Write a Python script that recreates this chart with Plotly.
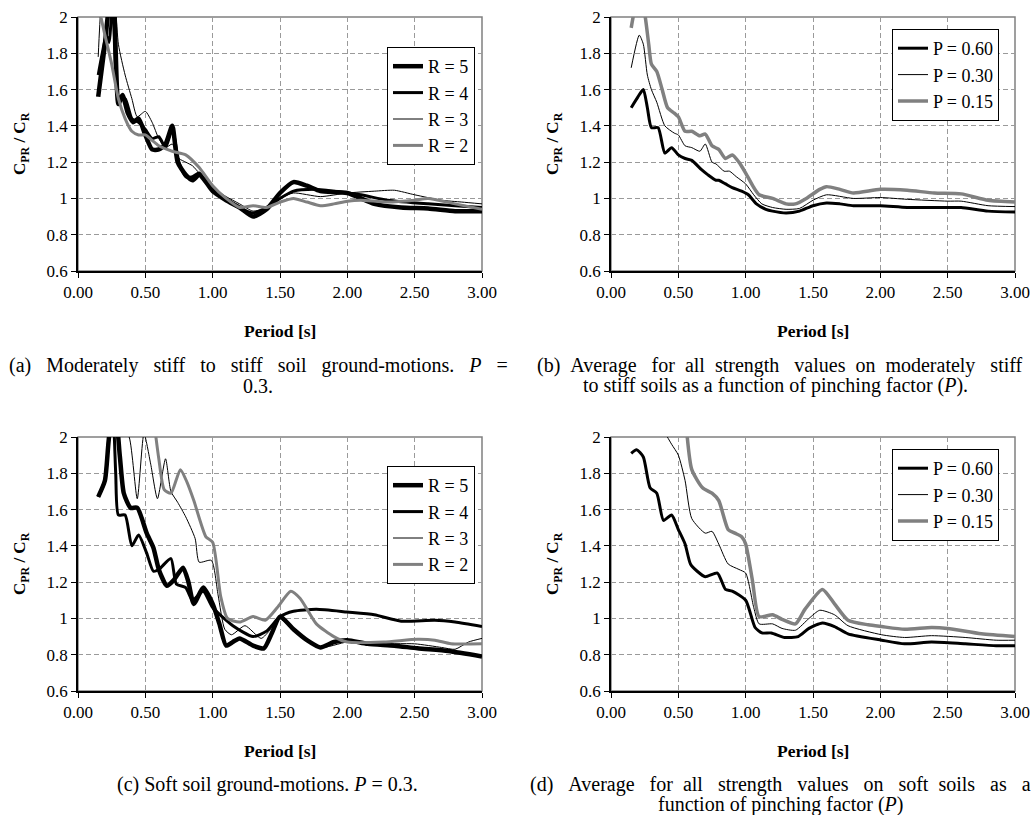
import plotly.graph_objects as go

# ---------------- data ----------------
# (a) moderately stiff to stiff soils, P = 0.3
a_R5_T = [0.15,0.2,0.23,0.26,0.3,0.33,0.37,0.41,0.45,0.5,0.55,0.6,0.65,0.7,0.74,0.8,0.85,0.9,0.95,1.0,1.1,1.2,1.3,1.4,1.5,1.6,1.7,1.8,2.0,2.2,2.4,2.6,2.8,3.0]
a_R5_V = [1.56,1.85,2.05,2.1,1.52,1.57,1.47,1.42,1.44,1.35,1.27,1.27,1.30,1.40,1.20,1.13,1.10,1.13,1.09,1.04,0.99,0.95,0.90,0.94,1.03,1.09,1.07,1.04,1.03,0.97,0.95,0.945,0.93,0.93]
a_R4_T = [0.15,0.18,0.21,0.23,0.26,0.3,0.35,0.4,0.45,0.5,0.55,0.6,0.65,0.7,0.75,0.8,0.85,0.9,0.95,1.0,1.1,1.2,1.3,1.4,1.5,1.6,1.75,1.9,2.1,2.3,2.6,2.8,3.0]
a_R4_V = [1.68,1.8,1.9,1.86,2.1,1.55,1.55,1.44,1.42,1.38,1.33,1.34,1.28,1.38,1.2,1.12,1.12,1.14,1.09,1.05,1.0,0.95,0.92,0.95,1.0,1.04,1.05,1.04,1.02,0.99,0.97,0.96,0.95]
a_R3_T = [0.15,0.17,0.2,0.25,0.3,0.35,0.4,0.44,0.5,0.55,0.6,0.65,0.7,0.75,0.8,0.85,0.9,0.95,1.0,1.1,1.2,1.3,1.4,1.5,1.6,1.8,2.0,2.2,2.35,2.5,2.7,2.85,3.0]
a_R3_V = [1.78,2.05,2.2,2.3,1.85,1.68,1.55,1.45,1.48,1.42,1.33,1.28,1.30,1.22,1.20,1.18,1.14,1.11,1.06,1.01,0.97,0.93,0.95,1.0,1.03,1.01,1.03,1.04,1.045,1.02,0.99,0.98,0.97]
a_R2_T = [0.17,0.2,0.25,0.3,0.35,0.4,0.45,0.5,0.55,0.6,0.7,0.8,0.9,1.0,1.1,1.2,1.3,1.4,1.5,1.6,1.7,1.8,1.9,2.0,2.1,2.3,2.5,2.6,2.8,3.0]
a_R2_V = [2.0,1.9,1.74,1.55,1.44,1.37,1.35,1.35,1.32,1.29,1.26,1.24,1.17,1.07,1.0,0.95,0.96,0.95,0.98,1.0,0.98,0.96,0.97,0.985,0.99,0.98,0.99,1.0,0.97,0.94]

# (b) moderately stiff to stiff soils, all strengths, by P
b_P60_T = [0.15,0.2,0.24,0.27,0.3,0.35,0.4,0.45,0.5,0.55,0.6,0.67,0.72,0.78,0.8,0.85,0.9,0.97,1.02,1.08,1.15,1.2,1.3,1.4,1.5,1.6,1.7,1.8,2.0,2.2,2.5,2.6,2.8,3.0]
b_P60_V = [1.50,1.56,1.60,1.5,1.39,1.39,1.25,1.28,1.24,1.22,1.21,1.16,1.13,1.10,1.10,1.08,1.06,1.04,1.02,0.97,0.94,0.93,0.92,0.93,0.96,0.975,0.97,0.96,0.96,0.95,0.95,0.95,0.93,0.925]
b_P30_T = [0.15,0.21,0.24,0.27,0.3,0.34,0.4,0.47,0.5,0.55,0.6,0.66,0.7,0.75,0.78,0.84,0.88,0.93,1.0,1.06,1.12,1.2,1.3,1.4,1.5,1.6,1.8,2.0,2.2,2.5,2.6,2.8,3.0]
b_P30_V = [1.72,1.90,1.85,1.68,1.6,1.53,1.4,1.36,1.35,1.29,1.28,1.26,1.30,1.2,1.19,1.15,1.15,1.12,1.08,1.02,0.97,0.95,0.94,0.945,0.99,1.02,1.0,1.005,0.995,0.985,0.985,0.96,0.955]
b_P15_T = [0.15,0.18,0.22,0.25,0.28,0.3,0.34,0.38,0.42,0.47,0.5,0.55,0.6,0.66,0.7,0.75,0.8,0.85,0.9,0.95,1.0,1.06,1.1,1.2,1.3,1.37,1.45,1.55,1.6,1.7,1.8,2.0,2.2,2.4,2.6,2.8,3.0]
b_P15_V = [1.94,2.05,2.1,2.02,1.85,1.74,1.70,1.60,1.50,1.47,1.45,1.37,1.37,1.345,1.355,1.29,1.27,1.22,1.24,1.20,1.14,1.06,1.02,1.0,0.97,0.97,1.0,1.05,1.065,1.05,1.03,1.05,1.045,1.03,1.025,0.99,0.98]

# (c) soft soils, P = 0.3
c_R5_T = [0.15,0.2,0.24,0.28,0.31,0.34,0.39,0.44,0.51,0.56,0.6,0.66,0.71,0.78,0.82,0.86,0.93,1.0,1.05,1.1,1.15,1.2,1.3,1.38,1.44,1.5,1.6,1.7,1.8,1.9,2.0,2.15,2.35,2.52,2.75,3.0]
c_R5_V = [1.67,1.76,2.05,2.1,1.9,1.69,1.61,1.61,1.47,1.39,1.27,1.18,1.21,1.28,1.2,1.08,1.17,1.08,0.97,0.85,0.87,0.89,0.85,0.835,0.92,1.01,0.94,0.88,0.84,0.87,0.88,0.86,0.85,0.835,0.82,0.79]
c_R4_T = [0.15,0.2,0.23,0.26,0.28,0.3,0.35,0.4,0.45,0.51,0.56,0.6,0.69,0.73,0.8,0.85,0.93,1.0,1.15,1.3,1.4,1.5,1.6,1.77,2.0,2.2,2.4,2.65,2.8,3.0]
c_R4_V = [1.67,1.76,2.0,2.1,1.8,1.57,1.57,1.40,1.46,1.36,1.26,1.27,1.33,1.19,1.17,1.1,1.15,1.06,0.96,0.9,0.93,1.01,1.04,1.05,1.035,1.02,0.985,0.99,0.98,0.955]
c_R3_T = [0.3,0.38,0.44,0.49,0.54,0.59,0.65,0.69,0.74,0.8,0.87,0.9,0.99,1.04,1.09,1.14,1.24,1.36,1.43,1.49,1.6,1.8,2.0,2.2,2.5,2.7,2.8,2.9,3.0]
c_R3_V = [2.1,2.0,1.66,2.02,1.85,1.66,1.88,1.7,1.64,1.56,1.44,1.31,1.32,1.13,0.94,0.91,0.96,0.89,0.94,1.0,0.94,0.84,0.87,0.86,0.86,0.84,0.83,0.87,0.89]
c_R2_T = [0.57,0.6,0.64,0.69,0.76,0.81,0.86,0.95,1.0,1.06,1.11,1.2,1.3,1.39,1.48,1.58,1.65,1.77,1.9,2.0,2.27,2.52,2.65,2.77,3.0]
c_R2_V = [2.05,1.88,1.71,1.69,1.82,1.75,1.65,1.45,1.42,1.12,1.0,0.98,1.01,0.99,1.06,1.15,1.11,0.97,0.9,0.87,0.87,0.885,0.88,0.86,0.86]

# (d) soft soils, all strengths, by P
d_P60_T = [0.15,0.19,0.24,0.29,0.34,0.39,0.45,0.5,0.55,0.59,0.64,0.7,0.79,0.85,0.9,1.0,1.07,1.12,1.19,1.29,1.39,1.47,1.57,1.66,1.76,2.01,2.18,2.38,2.63,2.86,3.0]
d_P60_V = [1.91,1.93,1.89,1.72,1.69,1.54,1.57,1.49,1.41,1.30,1.26,1.23,1.25,1.16,1.15,1.10,0.95,0.92,0.92,0.895,0.9,0.945,0.975,0.955,0.915,0.88,0.86,0.87,0.86,0.85,0.85]
d_P30_T = [0.38,0.45,0.5,0.55,0.6,0.7,0.75,0.8,0.87,0.95,1.0,1.06,1.1,1.2,1.27,1.37,1.47,1.55,1.66,1.76,2.01,2.18,2.38,2.63,2.86,3.0]
d_P30_V = [2.05,1.96,1.9,1.76,1.55,1.47,1.48,1.41,1.3,1.27,1.25,1.06,0.97,0.97,0.945,0.935,1.0,1.045,1.02,0.96,0.91,0.895,0.905,0.895,0.88,0.88]
d_P15_T = [0.56,0.6,0.68,0.75,0.8,0.87,0.92,0.97,1.0,1.05,1.1,1.2,1.27,1.37,1.44,1.57,1.66,1.76,1.91,2.01,2.18,2.38,2.5,2.75,3.0]
d_P15_V = [2.05,1.82,1.72,1.69,1.65,1.49,1.47,1.45,1.41,1.21,1.01,1.02,0.995,0.97,1.05,1.16,1.08,0.99,0.965,0.955,0.94,0.95,0.945,0.915,0.90]

X_TICKS = [0.0, 0.5, 1.0, 1.5, 2.0, 2.5, 3.0]
Y_TITLE = "<b>C<sub>PR</sub> / C<sub>R</sub></b>"
X_TITLE = "<b>Period [s]</b>"

CAP_A1 = "(a) Moderately stiff to stiff soil ground-motions. <i>P</i> ="
CAP_A2 = "0.3."
CAP_B1 = "(b) Average for all strength values on moderately stiff"
CAP_B2 = "to stiff soils as a function of pinching factor (<i>P</i>)."
CAP_C1 = "(c) Soft soil ground-motions. <i>P</i> = 0.3."
CAP_D1 = "(d) Average for all strength values on soft soils as a"
CAP_D2 = "function of pinching factor (<i>P</i>)"

# ---------------- styling ----------------
FONT = "Liberation Serif"
W, H = 1034, 815
GRAY = "#808080"

STY = {
    "R5": dict(color="black", width=4.5),
    "R4": dict(color="black", width=3),
    "R3": dict(color="black", width=1),
    "R2": dict(color=GRAY, width=3),
    "P60": dict(color="black", width=3),
    "P30": dict(color="black", width=1),
    "P15": dict(color=GRAY, width=3.5),
}

fig = go.Figure()

def add(T, V, name, key, xa, ya, leg):
    fig.add_trace(go.Scatter(
        x=T, y=V, mode="lines", name=name,
        line=dict(shape="spline", smoothing=0.6, **STY[key]),
        xaxis=xa, yaxis=ya, legend=leg, showlegend=True))

add(a_R5_T, a_R5_V, "R = 5", "R5", "x", "y", "legend")
add(a_R4_T, a_R4_V, "R = 4", "R4", "x", "y", "legend")
add(a_R3_T, a_R3_V, "R = 3", "R3", "x", "y", "legend")
add(a_R2_T, a_R2_V, "R = 2", "R2", "x", "y", "legend")

add(b_P60_T, b_P60_V, "P = 0.60", "P60", "x2", "y2", "legend2")
add(b_P30_T, b_P30_V, "P = 0.30", "P30", "x2", "y2", "legend2")
add(b_P15_T, b_P15_V, "P = 0.15", "P15", "x2", "y2", "legend2")

add(c_R5_T, c_R5_V, "R = 5", "R5", "x3", "y3", "legend3")
add(c_R4_T, c_R4_V, "R = 4", "R4", "x3", "y3", "legend3")
add(c_R3_T, c_R3_V, "R = 3", "R3", "x3", "y3", "legend3")
add(c_R2_T, c_R2_V, "R = 2", "R2", "x3", "y3", "legend3")

add(d_P60_T, d_P60_V, "P = 0.60", "P60", "x4", "y4", "legend4")
add(d_P30_T, d_P30_V, "P = 0.30", "P30", "x4", "y4", "legend4")
add(d_P15_T, d_P15_V, "P = 0.15", "P15", "x4", "y4", "legend4")

# plot areas in pixels (left, right, top, bottom)
boxes = {
    "": (78, 482, 17, 271),
    "2": (611, 1015, 17, 271),
    "3": (78, 482, 437, 691),
    "4": (611, 1015, 437, 691),
}

layout = dict(
    width=W, height=H, margin=dict(l=0, r=0, t=0, b=0, autoexpand=False),
    paper_bgcolor="white", plot_bgcolor="white",
    font=dict(family=FONT, size=16, color="black"),
    showlegend=True,
)

shapes = []
for k, (l, r, t, b) in boxes.items():
    xd = [l / W, r / W]
    yd = [1 - b / H, 1 - t / H]
    common = dict(
        showline=True, linecolor="black", linewidth=1.5,
        ticks="outside", ticklen=5, tickcolor="black", tickwidth=1,
        showgrid=True, gridcolor="#9a9a9a", gridwidth=1, griddash="5px,3px",
        zeroline=False, fixedrange=True, automargin=False,
        tickfont=dict(family=FONT, size=17),
    )
    layout["xaxis" + k] = dict(domain=xd, range=[0, 3], tickvals=X_TICKS,
                               tickformat=".2f", anchor="y" + k, **common)
    layout["yaxis" + k] = dict(domain=yd, range=[0.6, 2.0], tick0=0.6, dtick=0.2,
                               anchor="x" + k, **common)
    shapes.append(dict(type="rect", xref="paper", yref="paper",
                       x0=xd[0], x1=xd[1], y0=yd[0], y1=yd[1], layer="below",
                       line=dict(color=GRAY, width=1.5)))
layout["shapes"] = shapes

def leg(xpx, ypx):
    return dict(x=xpx / W, y=1 - ypx / H, xanchor="left", yanchor="top",
                bgcolor="white", bordercolor="black", borderwidth=1,
                font=dict(family=FONT, size=18, color="black"))

layout["legend"] = leg(387, 47)
layout["legend2"] = leg(892, 29)
layout["legend3"] = leg(387, 466)
layout["legend4"] = leg(892, 449)

ann = []
def text(xpx, ypx, s, size=17, angle=0, xanchor="center"):
    ann.append(dict(x=xpx / W, y=1 - ypx / H, xref="paper", yref="paper",
                    text=s, showarrow=False, textangle=angle,
                    xanchor=xanchor, yanchor="middle",
                    font=dict(family=FONT, size=size, color="black")))

def spread(s, k):
    # widen inter-word gaps (k extra non-breaking spaces per gap, on average)
    # to imitate a justified caption line
    parts = s.split(" ")
    out = parts[0]
    for i, p in enumerate(parts[1:]):
        n = round((i + 1) * k) - round(i * k)
        out += " " + "&nbsp;" * n + p
    return out

for (l, r, t, b), k in zip(boxes.values(), boxes.keys()):
    text((l + r) / 2, b + 60, X_TITLE, size=17.5)
    text(l - 57, (t + b) / 2, Y_TITLE, size=17, angle=-90)

text(258, 365, spread(CAP_A1, 2), size=20)
text(258, 386, CAP_A2, size=20)
text(780, 365, spread(CAP_B1, 1.35), size=20)
text(775, 386, CAP_B2, size=20)
text(267, 784, CAP_C1, size=20)
text(780, 784, spread(CAP_D1, 1.8), size=20)
text(780, 804, CAP_D2, size=20)
layout["annotations"] = ann

fig.update_layout(**layout)
fig.write_html("out.html")
